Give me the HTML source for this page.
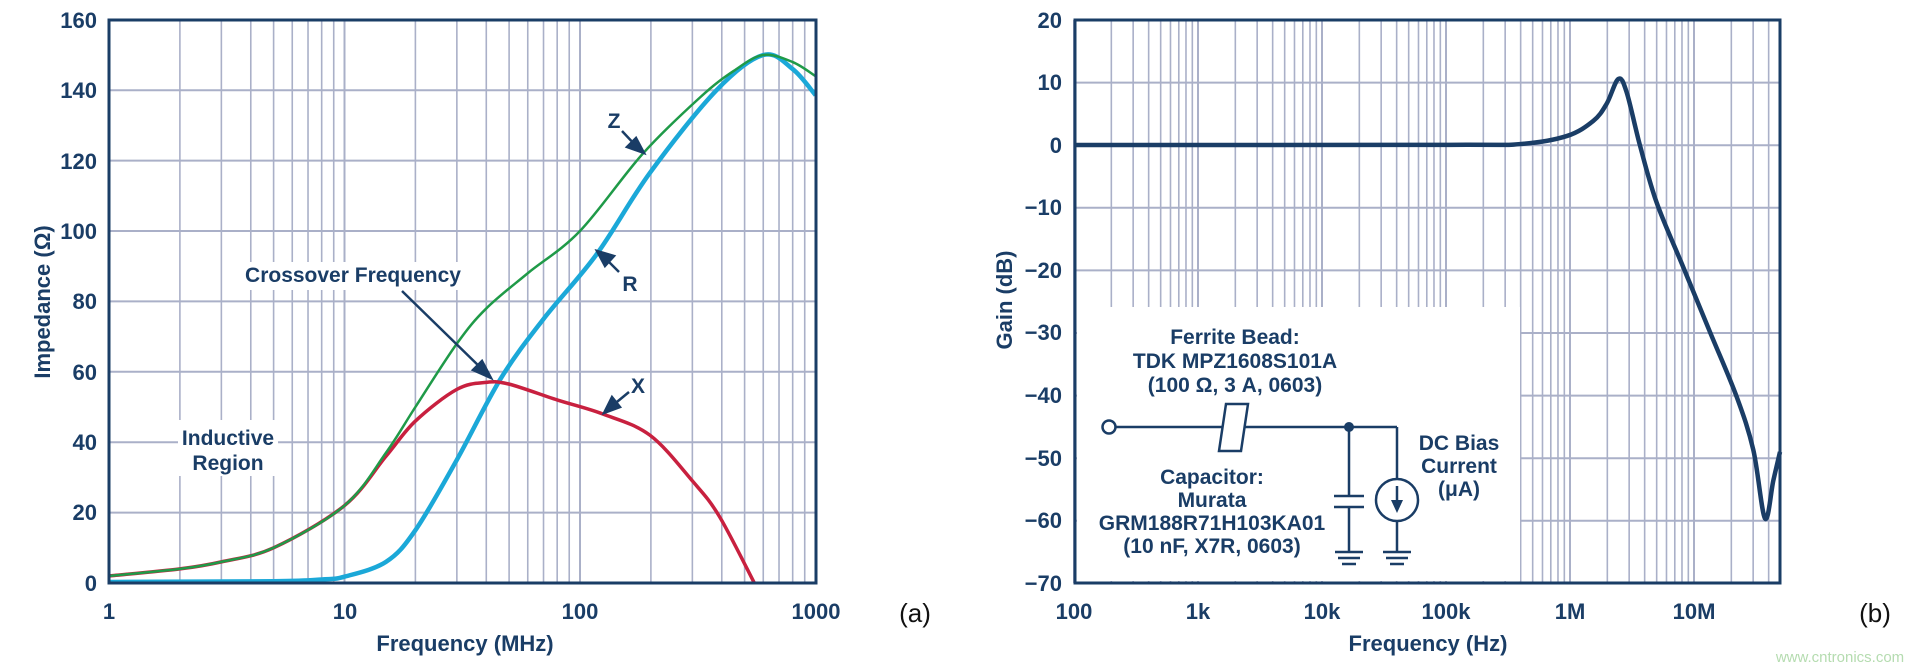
<!DOCTYPE html>
<html><head><meta charset="utf-8"><style>
html,body{margin:0;padding:0;background:#fff;}
svg{display:block;}
text{font-family:"Liberation Sans",sans-serif;font-weight:bold;fill:#1a3d66;}
</style></head><body>
<svg id="s" width="1913" height="670" viewBox="0 0 1913 670" xmlns="http://www.w3.org/2000/svg">
<g id="grid"></g>
<rect x="1077" y="307" width="443" height="274" fill="#fff"/>
<rect x="178" y="420" width="100" height="56" fill="#fff"/>
<rect x="228" y="262" width="250" height="28" fill="#fff"/>
<g id="curves"></g>
<rect x="109" y="20" width="707" height="563" fill="none" stroke="#1a3d66" stroke-width="3"/>
<rect x="1075" y="20" width="705" height="563" fill="none" stroke="#1a3d66" stroke-width="3"/>
<g font-size="22" text-anchor="end">
<text x="97" y="28">160</text><text x="97" y="98">140</text><text x="97" y="169">120</text>
<text x="97" y="239">100</text><text x="97" y="309">80</text><text x="97" y="380">60</text>
<text x="97" y="450">40</text><text x="97" y="520">20</text><text x="97" y="591">0</text>
</g>
<g font-size="22" text-anchor="middle">
<text x="109" y="619">1</text><text x="345" y="619">10</text><text x="580" y="619">100</text><text x="816" y="619">1000</text>
</g>
<text x="465" y="651" font-size="22" text-anchor="middle">Frequency (MHz)</text>
<text transform="translate(50,302) rotate(-90)" font-size="22" text-anchor="middle">Impedance (Ω)</text>
<text x="353" y="282" font-size="21" text-anchor="middle">Crossover Frequency</text>
<text x="228" y="445" font-size="21" text-anchor="middle">Inductive</text>
<text x="228" y="470" font-size="21" text-anchor="middle">Region</text>
<text x="614" y="128" font-size="21" text-anchor="middle">Z</text>
<text x="630" y="291" font-size="21" text-anchor="middle">R</text>
<text x="638" y="393" font-size="21" text-anchor="middle">X</text>
<g stroke="#1a3d66" stroke-width="2.5" fill="#1a3d66">
<line x1="402" y1="291" x2="484" y2="371"/><polygon points="491,378 473,370 482,361"/>
<line x1="622" y1="131" x2="637" y2="147"/><polygon points="644,153 627,147 636,138"/>
<line x1="619" y1="272" x2="604" y2="257"/><polygon points="597,251 614,256 605,266"/>
<line x1="629" y1="392" x2="612" y2="406"/><polygon points="604,413 612,397 620,407"/>
</g>
<text x="915" y="622" font-size="26" text-anchor="middle" style="font-weight:normal;fill:#111">(a)</text>
<g font-size="22" text-anchor="end">
<text x="1062" y="28">20</text><text x="1062" y="90">10</text><text x="1062" y="153">0</text>
<text x="1062" y="215">−10</text><text x="1062" y="278">−20</text><text x="1062" y="340">−30</text>
<text x="1062" y="403">−40</text><text x="1062" y="466">−50</text><text x="1062" y="528">−60</text><text x="1062" y="591">−70</text>
</g>
<g font-size="22" text-anchor="middle">
<text x="1074" y="619">100</text><text x="1198" y="619">1k</text><text x="1322" y="619">10k</text>
<text x="1446" y="619">100k</text><text x="1570" y="619">1M</text><text x="1694" y="619">10M</text>
</g>
<text x="1428" y="651" font-size="22" text-anchor="middle">Frequency (Hz)</text>
<text transform="translate(1012,300) rotate(-90)" font-size="22" text-anchor="middle">Gain (dB)</text>
<g font-size="21" text-anchor="middle">
<text x="1235" y="344">Ferrite Bead:</text>
<text x="1235" y="368">TDK MPZ1608S101A</text>
<text x="1235" y="392">(100 Ω, 3 A, 0603)</text>
<text x="1212" y="484">Capacitor:</text>
<text x="1212" y="507">Murata</text>
<text x="1212" y="530">GRM188R71H103KA01</text>
<text x="1212" y="553">(10 nF, X7R, 0603)</text>
<text x="1459" y="450">DC Bias</text>
<text x="1459" y="473">Current</text>
<text x="1459" y="496">(μA)</text>
</g>
<g stroke="#1a3d66" stroke-width="2.5" fill="none">
<circle cx="1109" cy="427" r="6.5" fill="#fff"/>
<line x1="1116" y1="427" x2="1222" y2="427"/>
<polygon points="1226,404 1248,404 1241,451 1219,451" fill="#fff"/>
<line x1="1245" y1="427" x2="1397" y2="427"/>
<line x1="1397" y1="427" x2="1397" y2="479"/>
<circle cx="1397" cy="500" r="21"/>
<line x1="1397" y1="521" x2="1397" y2="552"/>
<line x1="1349" y1="427" x2="1349" y2="496"/>
<line x1="1334" y1="496" x2="1364" y2="496"/>
<line x1="1334" y1="507" x2="1364" y2="507"/>
<line x1="1349" y1="507" x2="1349" y2="552"/>
<line x1="1335" y1="552" x2="1363" y2="552"/><line x1="1338" y1="558" x2="1360" y2="558"/><line x1="1342" y1="564" x2="1356" y2="564"/>
<line x1="1383" y1="552" x2="1411" y2="552"/><line x1="1386" y1="558" x2="1408" y2="558"/><line x1="1390" y1="564" x2="1404" y2="564"/>
<line x1="1397" y1="486" x2="1397" y2="502"/>
</g>
<circle cx="1349" cy="427" r="5" fill="#1a3d66"/>
<polygon points="1391,500 1403,500 1397,513" fill="#1a3d66"/>
<text x="1875" y="622" font-size="26" text-anchor="middle" style="font-weight:normal;fill:#111">(b)</text>
<text x="1840" y="662" font-size="15" text-anchor="middle" style="font-weight:normal;fill:#b5dcb0">www.cntronics.com</text>
</svg>
<script>
var NS="http://www.w3.org/2000/svg";
function el(p,t,a){var e=document.createElementNS(NS,t);for(var k in a)e.setAttribute(k,a[k]);p.appendChild(e);return e;}
var g=document.getElementById('grid'),c=document.getElementById('curves');
var gc="#aab0c8";
for(var d=0;d<3;d++)for(var m=1;m<10;m++){var x=109+(d+Math.log10(m))*235.5;el(g,'line',{x1:x,x2:x,y1:20,y2:583,stroke:gc,'stroke-width':m==1?2:1.6});}
for(var i=1;i<8;i++){var y=583-i*70.4;el(g,'line',{x1:109,x2:816,y1:y,y2:y,stroke:gc,'stroke-width':2});}
for(var d=0;d<6;d++)for(var m=1;m<10;m++){var x=1074+(d+Math.log10(m))*124;if(x<1780)el(g,'line',{x1:x,x2:x,y1:20,y2:583,stroke:gc,'stroke-width':m==1?2:1.6});}
for(var i=1;i<9;i++){var y=20+i*62.6;el(g,'line',{x1:1075,x2:1780,y1:y,y2:y,stroke:gc,'stroke-width':2});}
function spline(pts){var s="M"+pts[0][0]+","+pts[0][1];for(var i=0;i<pts.length-1;i++){var p0=pts[i-1]||pts[i],p1=pts[i],p2=pts[i+1],p3=pts[i+2]||p2;
s+=" C"+(p1[0]+(p2[0]-p0[0])/6)+","+(p1[1]+(p2[1]-p0[1])/6)+" "+(p2[0]-(p3[0]-p1[0])/6)+","+(p2[1]-(p3[1]-p1[1])/6)+" "+p2[0]+","+p2[1];}return s;}
function L(a){return a.map(function(p){return [109+Math.log10(p[0])*235.5,583-3.52*p[1]];});}
var Z=[[1,2],[2,4],[3,6],[5,10],[10,22],[15,37],[20,50],[30,68],[40,78],[60,88],[100,100],[185,122],[324,138],[450,145.5],[600,150],[800,148],[1000,144]];
var R=[[1,0.3],[5,0.5],[8,1],[10,1.8],[15,6],[20,15],[30,35],[46,58],[70,75],[118,93.5],[198,116.5],[380,140],[600,150],[800,146],[1000,138.6]];
var X=[[1,2],[2,4],[3,6],[5,10],[10,22],[15,36],[20,46],[30,55],[40,57],[50,56.5],[80,52],[125,48],[198,42],[300,29],[390,19],[550,0]];
el(c,'path',{d:spline(L(R)),fill:'none',stroke:'#1ba8d8','stroke-width':4.5});
el(c,'path',{d:spline(L(X)),fill:'none',stroke:'#c8203f','stroke-width':3.5});
el(c,'path',{d:spline(L(Z)),fill:'none',stroke:'#1f9a48','stroke-width':2.5});
var B=[[0,378],[210,376],[350,355],[430,315],[470,270],[505,205],[530,240],[570,380],[620,530],[700,700],[780,870],[860,1040],[910,1180],[945,1360],[970,1260],[990,1185]];
var bp=[[1076,145]].concat(B.map(function(p){return [p[0]/3+1450,20+(p[1]-50)/164.5*62.6];}));
el(c,'path',{d:spline(bp),fill:'none',stroke:'#1a3d66','stroke-width':4.5,'stroke-linejoin':'round'});
</script>
</body></html>
